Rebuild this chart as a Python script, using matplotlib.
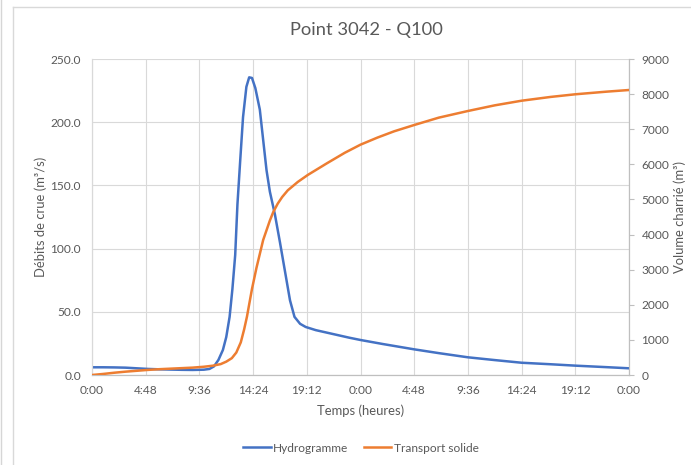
import matplotlib
matplotlib.use("Agg")
import matplotlib.pyplot as plt
from matplotlib.lines import Line2D
from matplotlib.ticker import FixedLocator, FuncFormatter

# Hydrograph: time (hours) and discharge (m3/s)
hydro_t = [0, 1, 2, 3, 4, 5, 6, 7, 8, 9, 10, 10.5, 10.9, 11.3, 11.7, 12.0, 12.3,
           12.55, 12.8, 13.0, 13.25, 13.5, 13.8, 14.05, 14.3, 14.6, 15.0, 15.35,
           15.6, 15.9, 16.35, 16.8, 17.25, 17.7, 18.1, 18.6, 19.1, 20, 21, 22, 23,
           24, 26, 28.8, 31, 33.6, 36, 38.4, 41, 43.2, 46, 48]
hydro_q = [6.1, 6.1, 6.0, 5.8, 5.3, 4.8, 4.5, 4.3, 4.1, 4.0, 4.2, 4.8, 6.8, 11.9,
           19.8, 30, 46, 68, 95, 135, 170, 204, 228, 235.5, 235, 227, 210, 182,
           162, 145, 127, 105, 82, 59, 46, 40.5, 38, 35.5, 33.5, 31.5, 29.5,
           27.7, 24.5, 20.3, 17.3, 14.0, 11.8, 9.7, 8.5, 7.4, 6.2, 5.3]

# Cumulative bed-load volume: time (hours) and volume (m3)
sed_t = [0, 1, 2, 3, 4, 5, 6, 7, 8, 9, 10, 10.8, 11.5, 12.0, 12.5, 12.9, 13.3,
         13.6, 13.85, 14.1, 14.3, 14.7, 15.3, 15.9, 16.2, 16.6, 17.0, 17.5, 18.4,
         19.3, 21, 22.6, 24, 25.5, 27, 28.8, 31, 33.6, 36, 38.4, 41, 43.2, 46, 48]
sed_v = [0, 30, 65, 95, 120, 145, 165, 180, 195, 210, 235, 265, 310, 380, 480,
         640, 930, 1300, 1660, 2100, 2450, 3050, 3845, 4400, 4640, 4880, 5070,
         5260, 5500, 5700, 6030, 6330, 6560, 6760, 6940, 7120, 7330, 7519, 7680,
         7812, 7920, 7995, 8070, 8117]

# Axis ticks
x_ticks = [0, 4.8, 9.6, 14.4, 19.2, 24, 28.8, 33.6, 38.4, 43.2, 48]
x_labels = ["0:00", "4:48", "9:36", "14:24", "19:12", "0:00", "4:48", "9:36",
            "14:24", "19:12", "0:00"]
q_ticks = [0, 50, 100, 150, 200, 250]
v_ticks = [0, 1000, 2000, 3000, 4000, 5000, 6000, 7000, 8000, 9000]

title = "Point 3042 - Q100"
x_title = "Temps (heures)"
q_title = "Débits de crue (m³/s)"
v_title = "Volume charrié (m³)"
series_names = ["Hydrogramme", "Transport solide"]

BLUE = "#4472C4"
ORANGE = "#ED7D31"
TEXT = "#595959"
GRID = "#D9D9D9"
AXIS = "#BFBFBF"

plt.rcParams["font.family"] = ["Lato", "DejaVu Sans"]

W, H = 691, 465
fig = plt.figure(figsize=(W / 100, H / 100), dpi=100)
fig.patch.set_facecolor("white")

ax = fig.add_axes([92 / W, (H - 375) / H, 537 / W, 316 / H])
ax2 = ax.twinx()

ax.plot(hydro_t, hydro_q, color=BLUE, lw=1.8, solid_joinstyle="round", zorder=3)
ax2.plot(sed_t, sed_v, color=ORANGE, lw=1.8, solid_joinstyle="round", zorder=3)

ax.set_xlim(0, 48)
ax.set_ylim(0, 250)
ax2.set_ylim(0, 9000)

ax.xaxis.set_major_locator(FixedLocator(x_ticks))
ax.set_xticklabels(x_labels)
ax.yaxis.set_major_locator(FixedLocator(q_ticks))
ax.yaxis.set_major_formatter(FuncFormatter(lambda v, p: f"{v:.1f}"))
ax2.yaxis.set_major_locator(FixedLocator(v_ticks))
ax2.yaxis.set_major_formatter(FuncFormatter(lambda v, p: f"{v:.0f}"))

ax.grid(True, color=GRID, lw=0.8, zorder=0)
ax.set_axisbelow(True)

for a in (ax, ax2):
    a.spines["top"].set_visible(False)
    a.spines["left"].set_color(GRID)
    a.spines["bottom"].set_color(AXIS)
    a.spines["right"].set_color(AXIS)
    a.spines["left"].set_linewidth(0.8)
    a.spines["bottom"].set_linewidth(0.8)
    a.spines["right"].set_linewidth(0.8)

ax.tick_params(axis="x", length=0, pad=7.5, labelsize=8.6, labelcolor=TEXT)
ax.tick_params(axis="y", length=0, pad=8, labelsize=8.6, labelcolor=TEXT)
ax2.tick_params(axis="y", length=3.5, width=0.8, color=AXIS, pad=5.5,
                labelsize=8.6, labelcolor=TEXT)

# Titles
fig.text(366 / W, 1 - 30 / H, title, ha="center", va="center",
         fontsize=13.2, color=TEXT)
fig.text(360.5 / W, 1 - 411 / H, x_title, ha="center", va="center",
         fontsize=9.4, color=TEXT)
fig.text(41 / W, 1 - 217 / H, q_title, ha="center", va="center",
         rotation=90, fontsize=9.4, color=TEXT)
fig.text(680 / W, 1 - 217 / H, v_title, ha="center", va="center",
         rotation=90, fontsize=9.4, color=TEXT)

# Legend
handles = [Line2D([], [], color=BLUE, lw=1.8), Line2D([], [], color=ORANGE, lw=1.8)]
leg = fig.legend(handles, series_names, loc="center", ncol=2,
                 bbox_to_anchor=(361 / W, 1 - 448 / H), frameon=False,
                 fontsize=8.6, handlelength=2.3, handletextpad=0.2,
                 columnspacing=1.3, labelcolor=TEXT)

# Chart border
fig.add_artist(Line2D([13.5 / W, 13.5 / W], [0, 1 - 7 / H], transform=fig.transFigure,
                      color=GRID, lw=1.0))
fig.add_artist(Line2D([13.5 / W, 1], [1 - 7 / H, 1 - 7 / H], transform=fig.transFigure,
                      color=GRID, lw=1.0))
fig.add_artist(Line2D([0.5 / W, 0.5 / W], [0, 1], transform=fig.transFigure,
                      color="#D6D6D6", lw=1.0))

fig.savefig("out.png", dpi=100, facecolor="white")
